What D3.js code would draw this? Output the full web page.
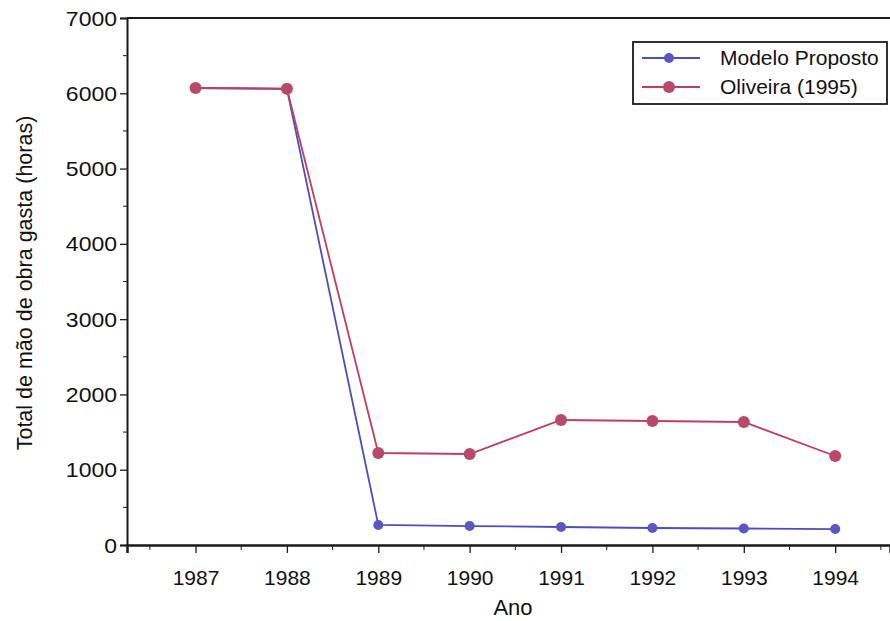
<!DOCTYPE html>
<html><head><meta charset="utf-8">
<script src="https://cdn.jsdelivr.net/npm/d3@7"></script>
<style>body{margin:0;background:#fff;} svg{display:block;font-family:"Liberation Sans",Arial,sans-serif;}</style>
</head><body>
<svg id="c" width="890" height="621"></svg>
<script>
const years = [1987, 1988, 1989, 1990, 1991, 1992, 1993, 1994];
const modelo = [6070, 6060, 266, 252, 239, 226, 219, 212];
const oliveira = [6070, 6060, 1222, 1209, 1660, 1647, 1634, 1182];
const seriesNames = ["Modelo Proposto", "Oliveira (1995)"];
const yTicks = [0, 1000, 2000, 3000, 4000, 5000, 6000, 7000];

const svg = d3.select("#c");
const L = 127, R = 890, T = 18, B = 545;
const x = d3.scaleLinear().domain([1986.25, 1994.6]).range([L, R]);
const y = d3.scaleLinear().domain([0, 7000]).range([B, T]);
const axisColor = "#1a1a1a";

// frame top
svg.append("line").attr("x1", L).attr("x2", R).attr("y1", T).attr("y2", T).attr("stroke", axisColor).attr("stroke-width", 2);

// y axis
const ya = svg.append("g").attr("transform", `translate(${L},0)`)
  .call(d3.axisLeft(y).tickValues(yTicks).tickSize(7).tickPadding(0).tickFormat(d3.format("d")));
ya.select(".domain").attr("stroke", axisColor).attr("stroke-width", 2);
ya.selectAll(".tick line").attr("stroke", axisColor).attr("stroke-width", 1.3);
ya.selectAll("text").attr("x", null).attr("dy", null)
  .attr("font-size", 20).attr("fill", "#111").attr("font-family", "Liberation Sans, Arial, sans-serif")
  .attr("transform", "translate(-10,7) scale(1.15,1)");
const yMinor = d3.range(500, 7000, 1000);
svg.append("g").selectAll("line").data(yMinor).join("line")
  .attr("x1", L - 4).attr("x2", L).attr("y1", d => y(d)).attr("y2", d => y(d))
  .attr("stroke", axisColor).attr("stroke-width", 1);

// x axis
const xa = svg.append("g").attr("transform", `translate(0,${B})`)
  .call(d3.axisBottom(x).tickValues(years).tickSize(8).tickPadding(18).tickFormat(d3.format("d")));
xa.select(".domain").attr("stroke", axisColor).attr("stroke-width", 2.5);
xa.selectAll(".tick line").attr("stroke", axisColor).attr("stroke-width", 1.3);
xa.selectAll("text").attr("font-size", 20).attr("fill", "#111").attr("font-family", "Liberation Sans, Arial, sans-serif")
  .attr("transform", "scale(1.05,1)");
const xMinor = d3.range(1986.5, 1995, 1);
svg.append("g").selectAll("line").data(xMinor).join("line")
  .attr("x1", d => x(d)).attr("x2", d => x(d)).attr("y1", B).attr("y2", B + 5)
  .attr("stroke", axisColor).attr("stroke-width", 1);

// axis titles
svg.append("text").attr("x", 513).attr("y", 615).attr("text-anchor", "middle")
  .attr("font-size", 22).attr("fill", "#111").text("Ano");
svg.append("text").attr("transform", "translate(32,283) rotate(-90)").attr("text-anchor", "middle")
  .attr("font-size", 21.5).attr("fill", "#111").text("Total de mão de obra gasta (horas)");

const colors = ["#4d4dbb", "#c23e5e"];
const markColors = ["#5858c4", "#b84a68"];
const data = [modelo, oliveira];
const line = d3.line().x((d, i) => x(years[i])).y(d => y(d));

[0, 1].forEach(k => {
  svg.append("path").datum(data[k]).attr("d", line).attr("fill", "none")
    .attr("stroke", colors[k]).attr("stroke-width", 1.8);
});
[0, 1].forEach(k => {
  svg.append("g").selectAll("circle").data(data[k]).join("circle")
    .attr("cx", (d, i) => x(years[i])).attr("cy", d => y(d))
    .attr("r", k === 0 ? 5 : 6).attr("fill", markColors[k]);
});

// legend
const lg = svg.append("g");
lg.append("rect").attr("x", 633).attr("y", 42).attr("width", 254).attr("height", 62)
  .attr("fill", "#fff").attr("stroke", axisColor).attr("stroke-width", 1.8);
seriesNames.forEach((n, k) => {
  const yy = 58 + k * 29;
  lg.append("line").attr("x1", 642).attr("x2", 700).attr("y1", yy).attr("y2", yy)
    .attr("stroke", colors[k]).attr("stroke-width", 1.8);
  lg.append("circle").attr("cx", 669).attr("cy", yy).attr("r", k === 0 ? 5 : 6).attr("fill", markColors[k]);
  lg.append("text").attr("x", 720).attr("y", yy + 7).attr("font-size", 21).attr("fill", "#111").text(n);
});
</script>
</body></html>
